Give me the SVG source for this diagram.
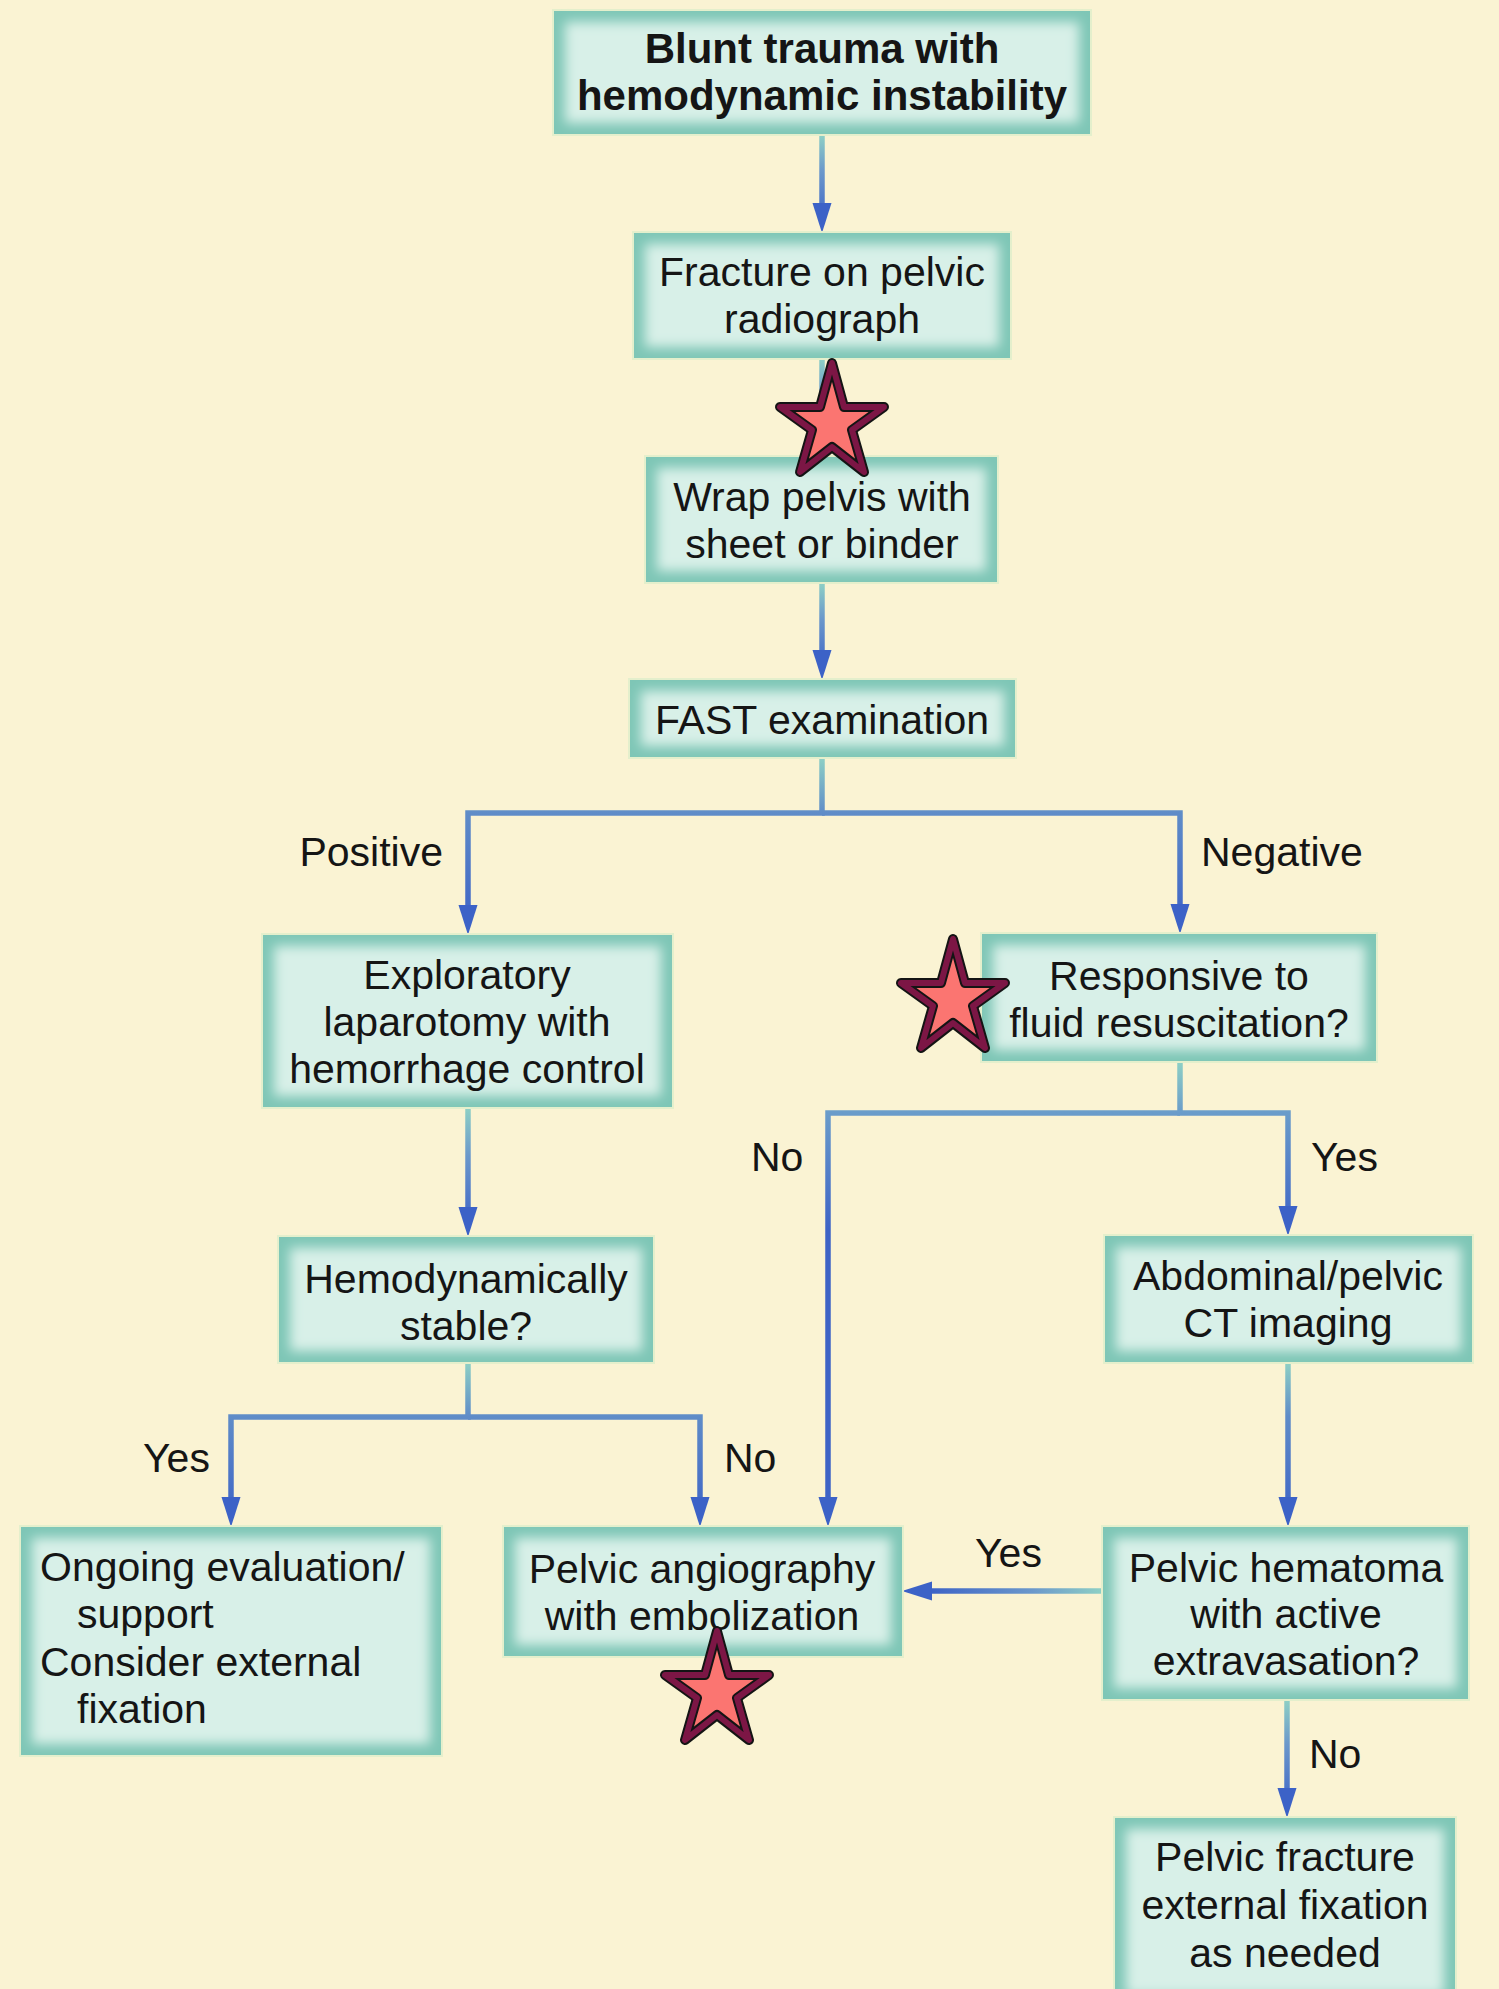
<svg xmlns="http://www.w3.org/2000/svg" width="1499" height="1989" viewBox="0 0 1499 1989">
  <defs>
    <style>
      .edge { fill: #7ec6b6; stroke: #e4efcc; stroke-width: 2; }
      .core { fill: #d8f0e8; filter: url(#soft); }
      text { font-family: "Liberation Sans", Arial, sans-serif; font-size: 41px; fill: #151515; }
      .c { text-anchor: middle; }
      .e { text-anchor: end; }
      .b { font-weight: bold; font-size: 42px; }
      .wire { fill: none; stroke-width: 5.5; marker-end: url(#ah); }
      .s-fill { fill: #fb7571; stroke: none; }
      .s-out { fill: none; stroke: #141414; stroke-width: 10; stroke-linejoin: round; }
      .s-in { fill: none; stroke: #7c1645; stroke-width: 6; stroke-linejoin: round; }
    </style>
    <filter id="soft" x="-20%" y="-20%" width="140%" height="140%">
      <feGaussianBlur stdDeviation="6"/>
    </filter>
    <marker id="ah" markerUnits="userSpaceOnUse" viewBox="0 0 30 20" markerWidth="30" markerHeight="20" refX="4" refY="10" orient="auto">
      <path d="M0,0.5 L30,10 L0,19.5 Z" fill="#3c62c7"/>
    </marker>
    <!-- connector shading: teal at the source, blue at the arrowhead -->
    <linearGradient id="g1" gradientUnits="userSpaceOnUse" x1="0" y1="135" x2="0" y2="225">
      <stop offset="0" stop-color="#8ed0c5"/><stop offset="0.4" stop-color="#6b98cb"/><stop offset="1" stop-color="#3d63c6"/>
    </linearGradient>
    <linearGradient id="g2" gradientUnits="userSpaceOnUse" x1="0" y1="359" x2="0" y2="450">
      <stop offset="0" stop-color="#8ed0c5"/><stop offset="0.4" stop-color="#6b98cb"/><stop offset="1" stop-color="#3d63c6"/>
    </linearGradient>
    <linearGradient id="g3" gradientUnits="userSpaceOnUse" x1="0" y1="583" x2="0" y2="672">
      <stop offset="0" stop-color="#8ed0c5"/><stop offset="0.4" stop-color="#6b98cb"/><stop offset="1" stop-color="#3d63c6"/>
    </linearGradient>
    <linearGradient id="g4" gradientUnits="userSpaceOnUse" x1="0" y1="758" x2="0" y2="925">
      <stop offset="0" stop-color="#8ed0c5"/><stop offset="0.33" stop-color="#5f8cc8"/><stop offset="1" stop-color="#3d63c6"/>
    </linearGradient>
    <linearGradient id="g5" gradientUnits="userSpaceOnUse" x1="0" y1="1062" x2="0" y2="1230">
      <stop offset="0" stop-color="#8ed0c5"/><stop offset="0.3" stop-color="#6a9cca"/><stop offset="1" stop-color="#3d63c6"/>
    </linearGradient>
    <linearGradient id="g6" gradientUnits="userSpaceOnUse" x1="0" y1="1108" x2="0" y2="1228">
      <stop offset="0" stop-color="#8ed0c5"/><stop offset="0.4" stop-color="#6b98cb"/><stop offset="1" stop-color="#3d63c6"/>
    </linearGradient>
    <linearGradient id="g7" gradientUnits="userSpaceOnUse" x1="0" y1="1363" x2="0" y2="1520">
      <stop offset="0" stop-color="#8ed0c5"/><stop offset="0.34" stop-color="#5f8cc8"/><stop offset="1" stop-color="#3d63c6"/>
    </linearGradient>
    <linearGradient id="g9" gradientUnits="userSpaceOnUse" x1="1102" y1="0" x2="930" y2="0">
      <stop offset="0" stop-color="#8ed0c5"/><stop offset="0.4" stop-color="#6b98cb"/><stop offset="1" stop-color="#3d63c6"/>
    </linearGradient>
    <linearGradient id="g10" gradientUnits="userSpaceOnUse" x1="0" y1="1700" x2="0" y2="1810">
      <stop offset="0" stop-color="#8ed0c5"/><stop offset="0.4" stop-color="#6b98cb"/><stop offset="1" stop-color="#3d63c6"/>
    </linearGradient>
    <!-- five-point marker star, centred on its origin -->
    <g id="star">
      <path class="s-fill" d="M0,-59 L12,-15 L52,-15 L20,8 L32,50 L0,25 L-32,50 L-20,8 L-52,-15 L-12,-15 Z"/>
      <path class="s-out" d="M0,-59 L12,-15 L52,-15 L20,8 L32,50 L0,25 L-32,50 L-20,8 L-52,-15 L-12,-15 Z"/>
      <path class="s-in" d="M0,-59 L12,-15 L52,-15 L20,8 L32,50 L0,25 L-32,50 L-20,8 L-52,-15 L-12,-15 Z"/>
    </g>
  </defs>

  <rect x="0" y="0" width="1499" height="1989" fill="#faf3d3"/>

  <g id="connectors">
    <path class="wire" stroke="url(#g1)" d="M822,135 V207"/>
    <path class="wire" stroke="url(#g2)" d="M822,359 V431"/>
    <path class="wire" stroke="url(#g3)" d="M822,583 V654"/>
    <path class="wire" stroke="url(#g4)" d="M822,758 V813 H468 V909"/>
    <path class="wire" stroke="url(#g4)" d="M822,813 H1180 V908"/>
    <path class="wire" stroke="url(#g5)" d="M1180,1062 V1113 H1288 V1210"/>
    <path class="wire" stroke="url(#g5)" d="M1180,1113 H828 V1501"/>
    <path class="wire" stroke="url(#g6)" d="M468,1108 V1211"/>
    <path class="wire" stroke="url(#g7)" d="M468,1363 V1417 H231 V1501"/>
    <path class="wire" stroke="url(#g7)" d="M468,1417 H700 V1501"/>
    <path class="wire" stroke="url(#g7)" d="M1288,1363 V1501"/>
    <path class="wire" stroke="url(#g9)" d="M1102,1591 H928"/>
    <path class="wire" stroke="url(#g10)" d="M1287,1700 V1792"/>
    <g id="branch-labels">
      <text class="e" x="443" y="866">Positive</text>
      <text x="1201" y="866">Negative</text>
      <text x="751" y="1171">No</text>
      <text x="1311" y="1171">Yes</text>
      <text x="143" y="1472">Yes</text>
      <text x="724" y="1472">No</text>
      <text x="975" y="1567">Yes</text>
      <text x="1309" y="1768">No</text>
    </g>
  </g>

  <g id="n-blunt">
    <rect class="edge" x="553" y="10" width="538" height="125"/>
    <rect class="core" x="565" y="22" width="514" height="101"/>
    <text class="c b" x="822" y="63">Blunt trauma with</text>
    <text class="c b" x="822" y="110">hemodynamic instability</text>
  </g>

  <g id="n-fracture">
    <rect class="edge" x="633" y="232" width="378" height="127"/>
    <rect class="core" x="645" y="244" width="354" height="103"/>
    <text class="c" x="822" y="286">Fracture on pelvic</text>
    <text class="c" x="822" y="333">radiograph</text>
  </g>

  <g id="n-wrap">
    <rect class="edge" x="645" y="456" width="353" height="127"/>
    <rect class="core" x="657" y="468" width="329" height="103"/>
    <text class="c" x="822" y="511">Wrap pelvis with</text>
    <text class="c" x="822" y="558">sheet or binder</text>
  </g>

  <g id="n-fast">
    <rect class="edge" x="629" y="679" width="387" height="79"/>
    <rect class="core" x="641" y="691" width="363" height="55"/>
    <text class="c" x="822" y="734">FAST examination</text>
  </g>

  <g id="n-laparotomy">
    <rect class="edge" x="262" y="934" width="411" height="174"/>
    <rect class="core" x="274" y="946" width="387" height="150"/>
    <text class="c" x="467" y="989">Exploratory</text>
    <text class="c" x="467" y="1036">laparotomy with</text>
    <text class="c" x="467" y="1083">hemorrhage control</text>
  </g>

  <g id="n-responsive">
    <rect class="edge" x="981" y="933" width="396" height="129"/>
    <rect class="core" x="993" y="945" width="372" height="105"/>
    <text class="c" x="1179" y="990">Responsive to</text>
    <text class="c" x="1179" y="1037">fluid resuscitation?</text>
  </g>

  <g id="n-stable">
    <rect class="edge" x="278" y="1236" width="376" height="127"/>
    <rect class="core" x="290" y="1248" width="352" height="103"/>
    <text class="c" x="466" y="1293">Hemodynamically</text>
    <text class="c" x="466" y="1340">stable?</text>
  </g>

  <g id="n-ct">
    <rect class="edge" x="1104" y="1235" width="369" height="128"/>
    <rect class="core" x="1116" y="1247" width="345" height="104"/>
    <text class="c" x="1288" y="1290">Abdominal/pelvic</text>
    <text class="c" x="1288" y="1337">CT imaging</text>
  </g>

  <g id="n-ongoing">
    <rect class="edge" x="20" y="1526" width="422" height="230"/>
    <rect class="core" x="32" y="1538" width="398" height="206"/>
    <text x="40" y="1581">Ongoing evaluation/</text>
    <text x="77" y="1628">support</text>
    <text x="40" y="1676">Consider external</text>
    <text x="77" y="1723">fixation</text>
  </g>

  <g id="n-angio">
    <rect class="edge" x="503" y="1526" width="400" height="131"/>
    <rect class="core" x="515" y="1538" width="376" height="107"/>
    <text class="c" x="702" y="1583">Pelvic angiography</text>
    <text class="c" x="702" y="1630">with embolization</text>
  </g>

  <g id="n-hematoma">
    <rect class="edge" x="1102" y="1526" width="367" height="174"/>
    <rect class="core" x="1114" y="1538" width="343" height="150"/>
    <text class="c" x="1286" y="1582">Pelvic hematoma</text>
    <text class="c" x="1286" y="1628">with active</text>
    <text class="c" x="1286" y="1675">extravasation?</text>
  </g>

  <g id="n-exfix">
    <rect class="edge" x="1114" y="1817" width="342" height="190"/>
    <rect class="core" x="1126" y="1829" width="318" height="166"/>
    <text class="c" x="1285" y="1871">Pelvic fracture</text>
    <text class="c" x="1285" y="1919">external fixation</text>
    <text class="c" x="1285" y="1967">as needed</text>
  </g>

  <g id="stars">
    <use href="#star" x="832" y="422"/>
    <use href="#star" x="953" y="998"/>
    <use href="#star" x="717" y="1690"/>
  </g>
</svg>
